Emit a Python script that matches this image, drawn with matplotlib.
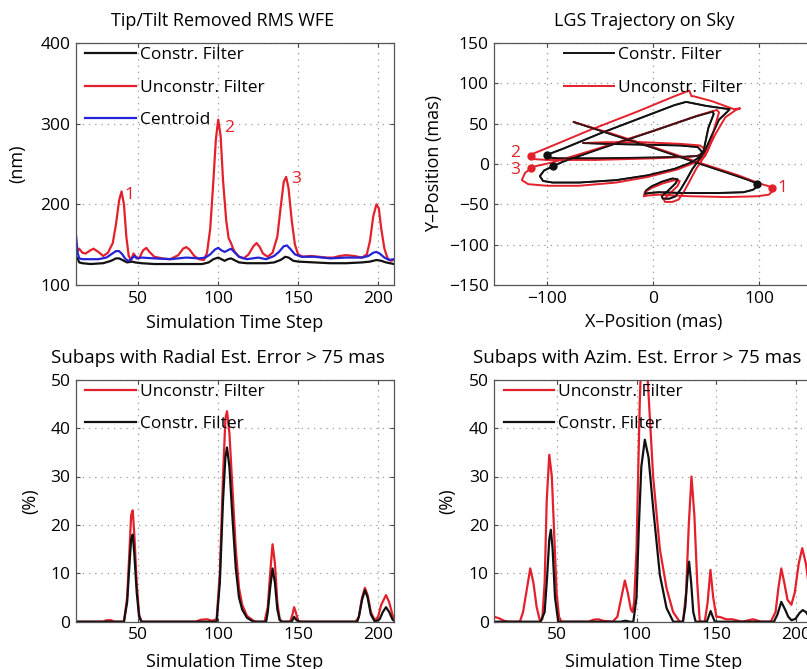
import matplotlib
matplotlib.use('Agg')
import matplotlib.pyplot as plt

plt.rcParams['font.family'] = ['Open Sans', 'DejaVu Sans']
FS = 12.5
plt.rcParams['font.size'] = FS

RED = '#e3202b'
BLUE = '#2424d6'
BLACK = '#111111'

# --- Tip/Tilt removed RMS WFE (nm) ---
wfe_t_red = [11, 13, 15, 17, 20, 22, 25, 28, 31, 34, 36, 38, 39.5, 41, 42.5, 44, 45.5, 47, 48.5,
             50.5, 53, 55, 57, 60, 65, 70, 75, 78, 80, 82, 85, 88, 91, 93, 95, 97, 98.5, 100,
             101.5, 103, 105, 106.5, 108, 110, 113, 116, 119, 122, 124, 126, 128, 131, 134, 137,
             139, 141, 142.5, 144, 146, 148, 150, 153, 158, 163, 168, 172, 176, 180, 185, 190,
             193, 195, 197, 199, 200.5, 202, 204, 206, 208, 210]
wfe_red = [139, 145, 140, 139, 143, 145, 141, 136, 140, 152, 175, 205, 216, 200, 160, 136, 131,
           139, 135, 133, 143, 146, 141, 135, 133, 132, 137, 145, 147, 144, 136, 132, 131, 140,
           170, 230, 280, 305, 285, 230, 180, 158, 152, 142, 135, 133, 138, 148, 152, 147, 139,
           135, 140, 160, 195, 228, 234, 220, 180, 150, 138, 135, 136, 135, 134, 134, 136, 137,
           136, 134, 138, 155, 185, 200, 195, 170, 145, 133, 130, 131]

wfe_t_blue = [11, 12, 13, 15, 20, 25, 30, 33, 36, 38, 40, 42, 44, 46, 47.5, 49, 52, 60, 70, 80,
              88, 92, 95, 98, 100, 102, 104, 106, 108, 110, 113, 118, 125, 130, 135, 138, 141,
              143, 145, 148, 152, 160, 170, 180, 190, 194, 197, 199, 201, 204, 207, 210]
wfe_blue = [162, 140, 133, 132, 132, 132, 134, 138, 142, 142, 138, 132, 130, 133, 136, 133, 134,
            133, 132, 134, 133, 134, 138, 144, 146, 143, 141, 143, 145, 141, 135, 132, 134, 132,
            136, 141, 148, 149, 145, 138, 135, 135, 133, 134, 134, 136, 140, 141, 139, 134, 131,
            132]

wfe_t_black = [11, 12, 13, 15, 20, 28, 33, 36, 38, 40, 43, 46, 48, 52, 60, 70, 80, 90, 94, 97,
               100, 102, 104, 106, 108, 110, 113, 118, 125, 130, 135, 139, 142, 144, 147, 150,
               160, 170, 180, 190, 195, 199, 202, 205, 210]
wfe_black = [135, 133, 128, 127, 126, 127, 130, 133, 133, 131, 128, 129, 128, 127, 126, 126, 126,
             126, 128, 132, 134, 132, 130, 132, 133, 131, 128, 127, 127, 127, 128, 131, 135, 134,
             130, 129, 128, 127, 127, 128, 129, 131, 130, 128, 126]

# --- LGS trajectory on sky (mas) ---
traj_x_black = [-75, -40, 0, 40, 70, 88, 96, 98, 98, 94, 85, 60, 30, 5, -4, -8, -7, -2, 8, 18,
                23, 21, 14, 8, 9, 15, 21, 26, 31, 37, 43, 47, 50, 55, 62, 70, 72, 66, 50, 31, 20,
                -10, -50, -85, -97, -100, -98, -90, -50, 0, 30, 42, 47, 48, 52, 57, 56, 40, 0,
                -50, -85, -95, -103, -107, -104, -95, -70, -35, -5, 20, 36, 44, 46, 42, 25, -10,
                -45, -66]
traj_y_black = [52, 37, 20, 2, -11, -19, -23, -25, -28, -32, -35, -36, -36, -35, -36, -37, -33,
                -28, -22, -18, -19, -24, -33, -40, -43, -43, -40, -31, -20, -6, 5, 12, 20, 35, 55,
                65, 68, 69, 72, 77, 73, 58, 38, 19, 13, 11, 8, 7, 7, 8, 9, 10, 14, 20, 45, 62, 65,
                59, 41, 19, 3, -3, -8, -15, -21, -23, -23, -20, -14, -6, 2, 9, 15, 21, 23, 24, 25,
                26]

traj_x_red = [-75, -40, 0, 45, 80, 100, 110, 112, 113, 109, 98, 70, 35, 5, -5, -9, -8, -2, 9, 20,
              25, 23, 16, 10, 11, 18, 24, 29, 34, 40, 46, 50, 53, 59, 68, 78, 82, 76, 55, 38, 36,
              34, 20, -15, -60, -100, -113, -115, -112, -100, -55, 0, 34, 46, 51, 53, 58, 62, 60,
              42, 0, -55, -95, -112, -115, -121, -124, -118, -100, -70, -35, -5, 22, 40, 49, 50,
              44, 25, -10, -45, -66]
traj_y_red = [52, 38, 21, 1, -14, -24, -28, -30, -33, -38, -40, -41, -40, -38, -39, -40, -35,
              -30, -24, -20, -21, -27, -36, -44, -47, -47, -44, -34, -22, -7, 5, 13, 22, 38, 58,
              67, 69, 68, 78, 84, 84, 91, 84, 65, 42, 20, 13, 10, 6, 5, 5, 7, 9, 11, 16, 22, 46,
              64, 67, 60, 41, 18, 2, -3, -5, -11, -20, -25, -27, -27, -23, -16, -7, 2, 10, 17,
              23, 25, 27, 27, 26]

pts_black_x = [98, -100, -95]
pts_black_y = [-25, 11, -3]
pts_red_x = [112, -115, -115]
pts_red_y = [-30, 10, -5]

# --- Subaps with radial est. error > 75 mas (%) ---
rad_t_red = [11, 28, 30, 33, 35, 41, 43, 44.5, 45.5, 46.5, 47.5, 49, 50.5, 52, 86, 89, 93, 96,
             99, 101, 103, 104.5, 105.5, 107, 109, 111, 113, 115, 118, 122, 124, 129, 131, 132.5,
             134, 135.5, 137, 138.5, 140, 145, 146.5, 147.5, 148.5, 150, 152, 186, 188, 190,
             191.8, 193.5, 195.5, 198, 200, 202, 205, 207, 209, 210]
rad_red = [0, 0, 0.3, 0.3, 0, 0, 5, 15, 22, 23, 18, 8, 1.5, 0, 0, 0.4, 0.5, 0.2, 0.5, 10, 30, 42,
           43.5, 39, 27, 15, 7, 3.5, 1.2, 0.2, 0, 0, 3, 10, 16, 12, 4, 0.5, 0, 0, 1.5, 3, 2, 0.2,
           0, 0, 1, 5, 7, 5.5, 2, 0.3, 1, 3.5, 5.5, 4, 1.5, 0.5]

rad_t_black = [11, 41, 43, 44.5, 45.5, 46.5, 47.5, 49, 50.5, 52, 99, 101, 103, 104.5, 105.5, 107,
               109, 111, 113, 115, 118, 122, 130, 131, 132.5, 134, 135.5, 137, 138.5, 140, 146,
               147.5, 149, 151, 187, 188, 190, 191.8, 193.5, 195.5, 198, 201, 203, 205, 207,
               209, 210]
rad_black = [0, 0, 4, 12, 17, 18, 14, 6, 1, 0, 0, 8, 25, 34, 36, 32, 21, 11, 5, 2.5, 0.8, 0, 0,
             2, 7, 11, 8, 2.5, 0.3, 0, 0, 1, 0.3, 0, 0, 1, 4.5, 6.5, 5, 1.5, 0, 0.5, 2, 3, 2, 0.5,
             0.2]

# --- Subaps with azim. est. error > 75 mas (%) ---
az_t_red = [11, 14, 17, 20, 27, 29, 31, 33.5, 35.5, 37.5, 39.5, 41, 42.5, 43.8, 45.4, 47, 48.5,
            50, 51.5, 53, 70, 73, 76, 79, 85, 88, 90.5, 92.7, 94.5, 96.5, 97.5, 98.5, 100, 101,
            102, 103, 105, 107.3, 110.4, 114.6, 118.8, 122.9, 127, 129.1, 131, 132.7, 134.4,
            136.2, 138, 139.6, 142.7, 144.5, 146.25, 148, 150, 152, 156, 160, 166, 172.9, 178,
            184, 187, 188.8, 190.6, 192.5, 194.5, 196.9, 199, 201.5, 203.7, 206, 208, 210]
az_red = [1, 0.7, 0.2, 0, 0, 2, 6, 11, 8, 3, 0.3, 0.5, 8, 25, 34.5, 30, 18, 6, 1, 0, 0, 0.4, 0.5,
          0.2, 0, 1, 5, 8.5, 6, 2.5, 2, 4, 15, 30, 45, 55, 60, 48.3, 30, 15, 6.9, 2, 0, 0, 6,
          20, 30, 22, 8, 0, 0, 4, 10.7, 5, 1, 1, 0.5, 0.5, 0, 0.5, 0, 0, 2, 7, 11, 8, 4.5, 3.5,
          6, 12, 15.2, 12, 7, 4]

az_t_black = [11, 40, 42.5, 44, 45.4, 46.4, 47.5, 49, 51, 90, 93, 96, 98, 100, 101.5, 103, 105.2,
              107.5, 110.4, 114.6, 118.8, 123, 129, 130.5, 131.8, 132.9, 134.2, 135.5, 137, 144,
              145.3, 146.4, 147.5, 149, 186, 188.2, 190.6, 193, 195, 197, 199.5, 202, 204, 206,
              208, 210]
az_black = [0, 0, 2, 9, 17, 19, 15, 5, 0, 0, 0.2, 0, 0, 5, 20, 32, 37.6, 34, 23.5, 9.7, 2.8, 0, 0,
            3, 9, 12.4, 8, 2, 0, 0, 1.2, 2.2, 1.2, 0, 0, 1.5, 4.1, 2.5, 1, 0.3, 0.6, 1.8, 2.4,
            2, 1, 0.5]

fig = plt.figure(figsize=(8.07, 6.69), dpi=100)
W, H = 807.0, 669.0
aw, ah = 318 / W, 242 / H
ax1 = fig.add_axes([76 / W, 1 - 285 / H, aw, ah])
ax2 = fig.add_axes([494.3 / W, 1 - 285 / H, aw, ah])
ax3 = fig.add_axes([76 / W, 1 - 621.7 / H, aw, ah])
ax4 = fig.add_axes([494.3 / W, 1 - 621.7 / H, aw, ah])


def style(ax):
    ax.grid(True, linestyle=(0, (1, 4)), color='#999999', linewidth=0.9)
    ax.tick_params(direction='in', top=True, right=True, length=3, color='#444444',
                   labelsize=FS, pad=4)
    for s in ax.spines.values():
        s.set_color('#555555')
        s.set_linewidth(0.9)


def legend(ax, loc='upper left', anchor=(0.016, 1.0)):
    lg = ax.legend(loc=loc, bbox_to_anchor=anchor, frameon=False, handlelength=2.9,
                   handletextpad=0.25, labelspacing=0.92, borderaxespad=0.1, borderpad=0.15,
                   fontsize=FS)
    return lg


def title(ax, text, xpos, size=13):
    ax.set_title(text, fontsize=size, x=xpos, pad=12)


lw = 1.6

# top left
ax1.plot(wfe_t_black, wfe_black, color=BLACK, lw=lw, label='Constr. Filter')
ax1.plot(wfe_t_red, wfe_red, color=RED, lw=lw, label='Unconstr. Filter')
ax1.plot(wfe_t_blue, wfe_blue, color=BLUE, lw=lw, label='Centroid')
ax1.set_xlim(11, 210)
ax1.set_ylim(100, 400)
ax1.set_xticks([50, 100, 150, 200])
ax1.set_yticks([100, 200, 300, 400])
title(ax1, 'Tip/Tilt Removed RMS WFE', 0.462)
ax1.set_xlabel('Simulation Time Step', fontsize=13)
ax1.set_ylabel('(nm)', fontsize=13)
ax1.yaxis.set_label_coords(-0.155, 0.5)
ax1.xaxis.set_label_coords(0.5, -0.12)
for lab, tx, ty in [('1', 41.5, 212), ('2', 104, 295), ('3', 145.5, 231)]:
    ax1.text(tx, ty, lab, color=RED, fontsize=FS, va='center', ha='left')
style(ax1)
legend(ax1)

# top right
ax2.plot(traj_x_black, traj_y_black, color=BLACK, lw=1.4, label='Constr. Filter')
ax2.plot(traj_x_red, traj_y_red, color=RED, lw=1.4, label='Unconstr. Filter')
ax2.plot(traj_x_black, traj_y_black, color=BLACK, lw=1.2, alpha=0.8)
ax2.plot(pts_red_x, pts_red_y, 'o', color=RED, ms=5)
ax2.plot(pts_black_x, pts_black_y, 'o', color=BLACK, ms=5)
ax2.set_xlim(-150, 150)
ax2.set_ylim(-150, 150)
ax2.set_xticks([-100, 0, 100])
ax2.set_yticks([-150, -100, -50, 0, 50, 100, 150])
title(ax2, 'LGS Trajectory on Sky', 0.471)
ax2.set_xlabel('X\u2013Position (mas)', fontsize=13)
ax2.set_ylabel('Y\u2013Position (mas)', fontsize=13)
ax2.yaxis.set_label_coords(-0.16, 0.5)
ax2.xaxis.set_label_coords(0.5, -0.115)
for lab, tx, ty in [('1', 117, -30), ('2', -135, 14), ('3', -135, -8)]:
    ax2.text(tx, ty, lab, color=RED, fontsize=FS, va='center', ha='left')
style(ax2)
legend(ax2, 'upper center', (0.5, 1.0))

# bottom left
ax3.plot(rad_t_red, rad_red, color=RED, lw=lw, label='Unconstr. Filter')
ax3.plot(rad_t_black, rad_black, color=BLACK, lw=lw, label='Constr. Filter')
ax3.set_xlim(11, 210)
ax3.set_ylim(0, 50)
ax3.set_xticks([50, 100, 150, 200])
ax3.set_yticks([0, 10, 20, 30, 40, 50])
title(ax3, 'Subaps with Radial Est. Error > 75 mas', 0.445, 13.5)
ax3.set_xlabel('Simulation Time Step', fontsize=13)
ax3.set_ylabel('(%)', fontsize=13)
ax3.yaxis.set_label_coords(-0.115, 0.5)
ax3.xaxis.set_label_coords(0.5, -0.13)
style(ax3)
legend(ax3)

# bottom right
ax4.plot(az_t_red, az_red, color=RED, lw=lw, label='Unconstr. Filter')
ax4.plot(az_t_black, az_black, color=BLACK, lw=lw, label='Constr. Filter')
ax4.set_xlim(11, 210)
ax4.set_ylim(0, 50)
ax4.set_xticks([50, 100, 150, 200])
ax4.set_yticks([0, 10, 20, 30, 40, 50])
title(ax4, 'Subaps with Azim. Est. Error > 75 mas', 0.45, 13.5)
ax4.set_xlabel('Simulation Time Step', fontsize=13)
ax4.set_ylabel('(%)', fontsize=13)
ax4.yaxis.set_label_coords(-0.12, 0.5)
ax4.xaxis.set_label_coords(0.5, -0.13)
style(ax4)
legend(ax4)

fig.savefig('out.png', dpi=100)
